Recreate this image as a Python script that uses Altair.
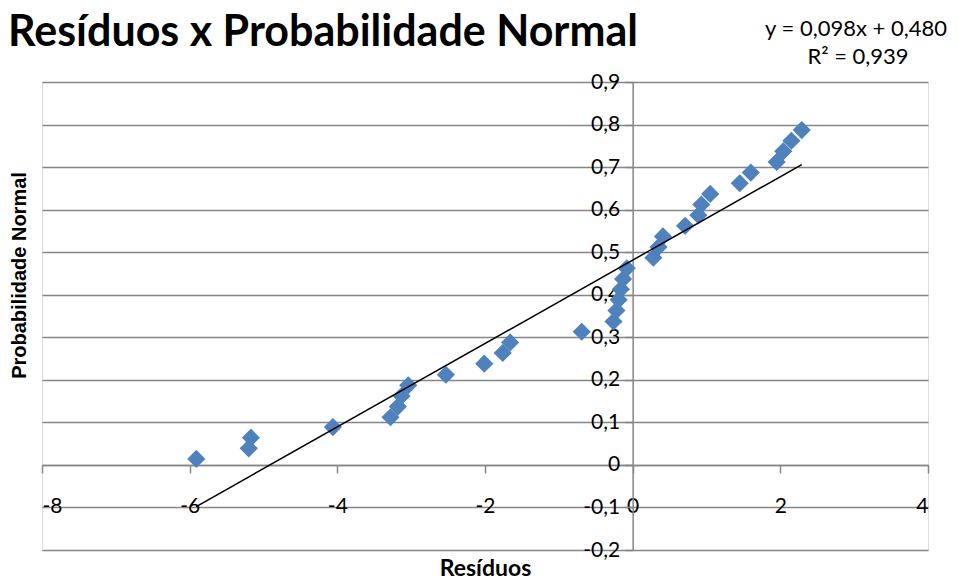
import altair as alt
import pandas as pd

# Data
residuos = [-5.91, -5.20, -5.17, -4.06, -3.28, -3.18, -3.13, -3.04, -2.53, -2.01,
            -1.76, -1.66, -0.69, -0.26, -0.22, -0.19, -0.16, -0.13, -0.08, 0.28,
            0.35, 0.41, 0.71, 0.89, 0.93, 1.05, 1.45, 1.60, 1.95, 2.04, 2.15, 2.29]
probabilidade = [0.014, 0.039, 0.064, 0.089, 0.112, 0.137, 0.162, 0.187, 0.212, 0.238,
                 0.263, 0.288, 0.313, 0.337, 0.363, 0.388, 0.413, 0.437, 0.462, 0.487,
                 0.512, 0.537, 0.562, 0.587, 0.612, 0.637, 0.662, 0.687, 0.712, 0.737,
                 0.762, 0.787]
x_ticks = [-8, -6, -4, -2, 0, 2, 4]
y_ticks = [-0.2, -0.1, 0.0, 0.1, 0.2, 0.3, 0.4, 0.5, 0.6, 0.7, 0.8, 0.9]
chart_title = "Resíduos x Probabilidade Normal"
x_title = "Resíduos"
y_title = "Probabilidade Normal"
equation_line = "y = 0,098x + 0,480"
r2_line = "R² = 0,939"

df = pd.DataFrame({"x": residuos, "y": probabilidade})

FONT = "Lato, sans-serif"
YFONT = "Liberation Sans, Arial, sans-serif"
W, H = 886, 468
GRID = "#868686"
BLUE = "#4F81BD"

xscale = alt.Scale(domain=[-8, 4], nice=False, zero=False)
yscale = alt.Scale(domain=[-0.2, 0.9], nice=False, zero=False)

x_axis = alt.Axis(values=x_ticks, grid=False, offset=-85,
                  domainColor=GRID, domainWidth=1.5, tickColor=GRID, tickSize=8, tickWidth=1.5,
                  labelFont=FONT, labelFontSize=21, labelColor="black", labelPadding=22,
                  labelExpr="toString(datum.value)",
                  title=x_title, titleFont=FONT, titleFontSize=23, titleFontWeight="bold",
                  titleColor="black", titleY=103, titleBaseline="middle")
y_axis = alt.Axis(values=y_ticks, grid=True, gridColor=GRID, gridWidth=1.5, offset=-590.67,
                  domainColor=GRID, domainWidth=1.5, tickColor=GRID, tickSize=8, tickWidth=1.5,
                  labelFont=FONT, labelFontSize=21, labelColor="black", labelPadding=5,
                  labelExpr="replace(toString(datum.value), '.', ',')",
                  title=y_title, titleFont=YFONT, titleFontSize=20, titleFontWeight="bold",
                  titleColor="black", titleX=-613, titleY=193, titleBaseline="middle")

base = alt.Chart(df)

points = base.mark_point(shape="diamond", filled=True, size=330, color=BLUE, opacity=1).encode(
    x=alt.X("x:Q", scale=xscale, axis=x_axis),
    y=alt.Y("y:Q", scale=yscale, axis=y_axis),
)

trend = base.transform_regression("x", "y").mark_line(color="black", strokeWidth=1.5).encode(
    x=alt.X("x:Q", scale=xscale, axis=x_axis),
    y=alt.Y("y:Q", scale=yscale, axis=y_axis),
)

title_mark = alt.Chart(pd.DataFrame({"t": [chart_title]})).mark_text(
    font=FONT, fontSize=43, fontWeight="bold", align="left", baseline="alphabetic", color="black"
).encode(text="t:N", x=alt.value(-34), y=alt.value(-36))

eq_mark = alt.Chart(pd.DataFrame({"t": [equation_line]})).mark_text(
    font=FONT, fontSize=22, align="center", baseline="middle", color="black"
).encode(text="t:N", x=alt.value(814), y=alt.value(-53))

r2_mark = alt.Chart(pd.DataFrame({"t": [r2_line]})).mark_text(
    font=FONT, fontSize=22, align="center", baseline="middle", color="black"
).encode(text="t:N", x=alt.value(816), y=alt.value(-25))

chart = alt.layer(points, trend, title_mark, eq_mark, r2_mark).properties(
    width=W, height=H,
    autosize=alt.AutoSizeParams(type="none"),
    padding={"left": 34, "top": 74, "right": 22, "bottom": 31},
).configure_view(stroke=None).configure(background="white")

chart.save("out.html", embed_options={"renderer": "svg", "actions": False})
